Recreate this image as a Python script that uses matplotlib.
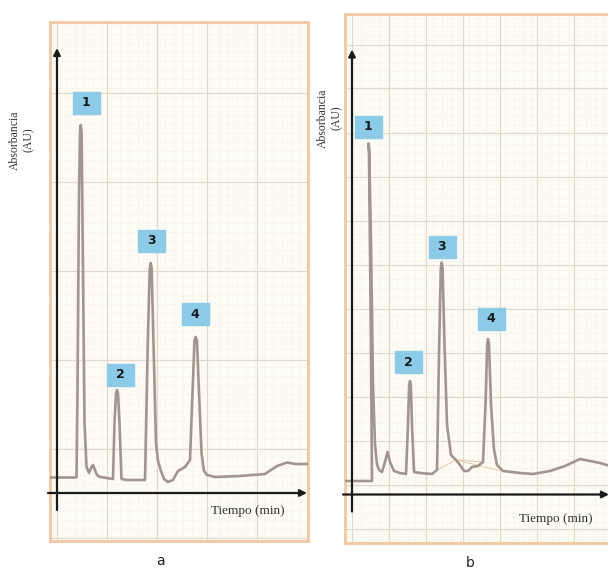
import numpy as np
import matplotlib.pyplot as plt
from matplotlib.ticker import MultipleLocator
from matplotlib.patches import Rectangle

# trace of chromatogram a (time, absorbance)
time_a = [-0.6, 1.95, 2.05, 2.2, 2.3, 2.38, 2.46, 2.6, 2.75, 2.95, 3.2, 3.45, 3.6, 3.75, 4.0,
          4.3, 5.0, 5.6, 5.75, 5.9, 6.0, 6.1, 6.25, 6.45, 7.0, 8.0, 8.8, 9.1, 9.28, 9.37,
          9.46, 9.65, 9.9, 10.1, 10.4, 10.7, 11.1, 11.6, 12.1, 12.8, 13.3, 13.55, 13.75, 13.87,
          14.0, 14.2, 14.45, 14.7, 15.0, 15.8, 18.3, 20.8, 22.0, 23.0, 23.8, 25.1]
abs_a = [1.55, 1.55, 10.0, 30.0, 36.0, 36.8, 36.0, 22.0, 7.0, 2.6, 2.0, 2.6, 2.8, 2.4, 1.8,
         1.6, 1.5, 1.4, 7.0, 10.0, 10.3, 10.0, 7.0, 1.4, 1.3, 1.3, 1.3, 16.0, 22.5, 23.0,
         22.5, 15.0, 5.0, 3.2, 2.2, 1.4, 1.1, 1.3, 2.2, 2.6, 3.3, 10.0, 15.2, 15.6,
         15.2, 10.0, 4.0, 2.2, 1.8, 1.6, 1.7, 1.9, 2.7, 3.05, 2.9, 2.9]

# trace of chromatogram b
time_b = [-0.7, 2.0, 1.85, 1.7, 1.65, 1.72, 1.9, 2.1, 2.3, 2.5, 2.7, 3.0, 3.3, 3.55, 3.8,
          4.2, 4.8, 5.4, 5.6, 5.72, 5.8, 5.88, 6.0, 6.2, 6.8, 8.0, 8.5, 8.7, 8.88, 8.97,
          9.06, 9.25, 9.5, 9.9, 10.4, 10.8, 11.2, 11.6, 12.0, 12.6, 13.1, 13.35, 13.52, 13.6,
          13.7, 13.9, 14.2, 14.5, 15.1, 16.8, 18.1, 19.8, 21.3, 22.8, 23.8, 24.8, 25.8]
abs_b = [1.35, 1.35, 20.0, 34.0, 35.1, 34.5, 25.0, 11.0, 5.0, 3.0, 2.45, 2.25, 3.25, 4.25, 3.25,
         2.35, 2.15, 2.05, 7.0, 11.0, 11.35, 11.0, 7.0, 2.25, 2.15, 2.05, 2.45, 14.0, 22.6, 23.2,
         22.6, 15.0, 7.0, 3.95, 3.45, 2.95, 2.35, 2.35, 2.75, 2.85, 3.25, 9.0, 15.0, 15.55,
         15.0, 9.0, 4.5, 2.95, 2.35, 2.15, 2.05, 2.35, 2.85, 3.55, 3.35, 3.15, 2.85]

peak_labels = ["1", "2", "3", "4"]
label_t_a = [2.9, 6.3, 9.4, 13.8]
label_a_a = [39.0, 11.85, 25.2, 17.9]
label_t_b = [1.6, 5.6, 9.0, 13.9]
label_a_b = [36.75, 13.25, 24.75, 17.6]

paper = "#fcfbf4"
frame = "#f2c8a0"
trace = "#a3958d"
box = "#8ccbe8"

fig = plt.figure(figsize=(6.08, 5.71), dpi=100)
W, H = 608.0, 571.0


def panel(rect, xlim, ylim, t, a, lt, la, ymajor, xmajor, yoff):
    ax = fig.add_axes(rect)
    ax.set_facecolor(paper)
    ax.set_xlim(*xlim)
    ax.set_ylim(*ylim)
    for s in ax.spines.values():
        s.set_color(frame)
        s.set_linewidth(2)
    ax.xaxis.set_major_locator(MultipleLocator(xmajor))
    ax.yaxis.set_major_locator(MultipleLocator(ymajor, offset=yoff))
    ax.xaxis.set_minor_locator(MultipleLocator(0.9))
    ax.yaxis.set_minor_locator(MultipleLocator(0.9))
    ax.grid(which="major", color="#e3d8c8", lw=0.8)
    ax.grid(which="minor", color="#eee8dc", lw=0.4, ls=(0, (2, 2)))
    ax.tick_params(which="both", length=0, labelleft=False, labelbottom=False)
    ax.set_axisbelow(True)

    ax.plot(t, a, color=trace, lw=1.9, solid_joinstyle="round", zorder=3)

    # axes with arrows
    ax.annotate("", xy=(0, 44.5), xytext=(0, -1.7),
                arrowprops=dict(arrowstyle="-|>", color="#1a1a1a", lw=1.6,
                                mutation_scale=10, shrinkA=0, shrinkB=0), zorder=4)
    ax.annotate("", xy=(xlim[1] - 0.1, 0), xytext=(xlim[0] - 0.2, 0),
                arrowprops=dict(arrowstyle="-|>", color="#1a1a1a", lw=1.6,
                                mutation_scale=10, shrinkA=0, shrinkB=0),
                annotation_clip=False, zorder=4)

    for lab, x, y in zip(peak_labels, lt, la):
        ax.add_patch(Rectangle((x - 1.35, y - 1.1), 2.7, 2.2, color=box, zorder=5))
        ax.text(x, y, lab, ha="center", va="center", fontsize=9, fontweight="bold",
                color="#1a1a1a", zorder=6)
    return ax


ax_a = panel([50 / W, 30 / H, 258 / W, 519 / H], (-0.7, 25.1), (-4.8, 47.1),
             time_a, abs_a, label_t_a, label_a_a, 8.9, 5.0, 4.4)
ax_b = panel([345 / W, 28 / H, 265 / W, 529 / H], (-0.7, 25.8), (-4.85, 48.05),
             time_b, abs_b, label_t_b, label_a_b, 4.4, 3.7, 1.0)

# faint baseline construction lines in b
ax_b.plot([8.5, 10.4, 13.1], [2.45, 3.45, 3.25], color="#e8c9a8", lw=0.7, zorder=2)
ax_b.plot([10.4, 14.5, 18.1], [3.45, 2.45, 2.05], color="#e8c9a8", lw=0.7, zorder=2)

serif = "Liberation Serif"
fig.text(22 / W, 1 - 140 / H, "Absorbancia\n(AU)", rotation=90, ha="center", va="center",
         fontsize=8.5, family=serif, color="#333333", multialignment="center")
fig.text(330 / W, 1 - 118 / H, "Absorbancia\n(AU)", rotation=90, ha="center", va="center",
         fontsize=8.5, family=serif, color="#333333", multialignment="center")
fig.text(248 / W, 1 - 511 / H, "Tiempo (min)", ha="center", va="center",
         fontsize=9.5, family=serif, color="#333333")
fig.text(556 / W, 1 - 519 / H, "Tiempo (min)", ha="center", va="center",
         fontsize=9.5, family=serif, color="#333333")
fig.text(160 / W, 1 - 561 / H, "a", ha="center", va="center", fontsize=10, color="#222222")
fig.text(470 / W, 1 - 563 / H, "b", ha="center", va="center", fontsize=10, color="#222222")

fig.savefig("out.png", dpi=100, facecolor="white")
